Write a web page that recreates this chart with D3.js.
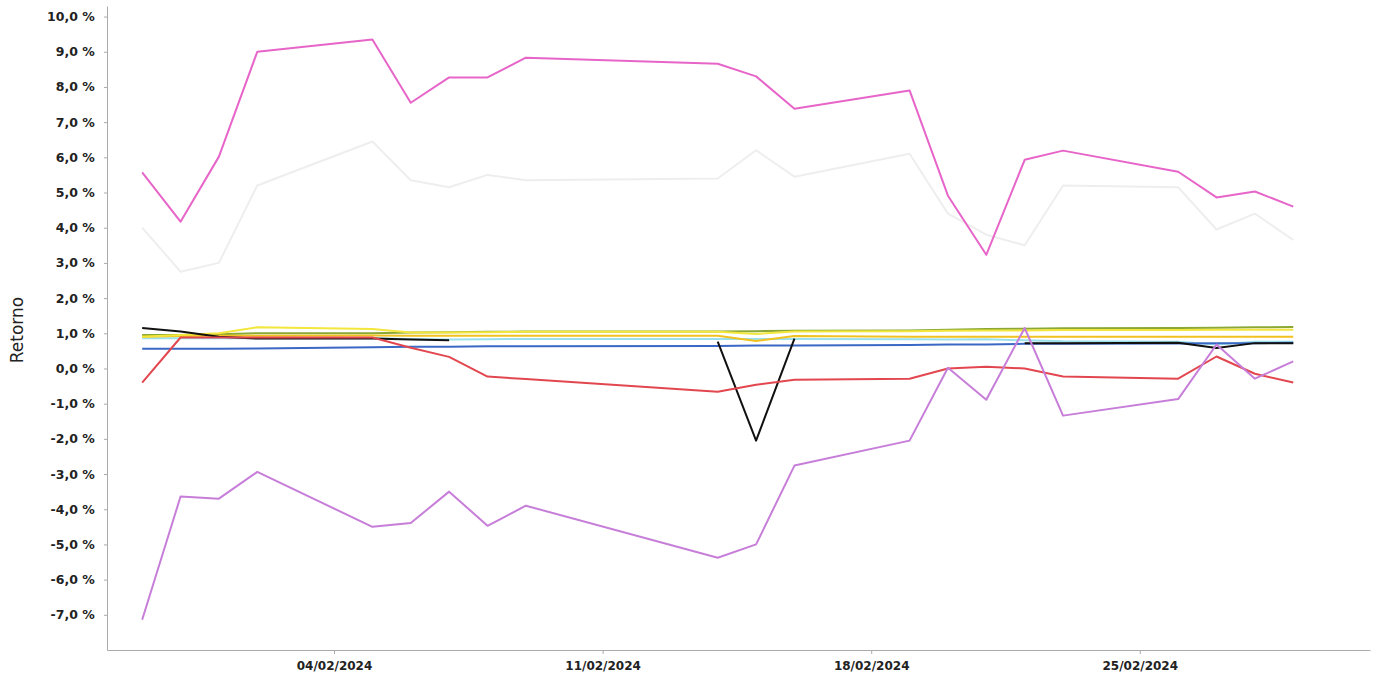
<!DOCTYPE html>
<html>
<head>
<meta charset="utf-8">
<script src="https://cdn.jsdelivr.net/npm/d3@7"></script>
<style>
  body { margin: 0; background: #fff; }
  svg text { font-family: "DejaVu Sans", sans-serif; }
  .axis path, .axis line { stroke: #aaa; }
  .axis text { fill: #222; font-weight: bold; }
</style>
</head>
<body>
<div id="chart"></div>
<script>
// trading days (Carnival 12-13/02 missing)
const dates = ["30/01/2024", "31/01/2024", "01/02/2024", "02/02/2024", "05/02/2024", "06/02/2024",
  "07/02/2024", "08/02/2024", "09/02/2024", "14/02/2024", "15/02/2024", "16/02/2024", "19/02/2024",
  "20/02/2024", "21/02/2024", "22/02/2024", "23/02/2024", "26/02/2024", "27/02/2024", "28/02/2024", "29/02/2024"];

const xTicks = ["04/02/2024", "11/02/2024", "18/02/2024", "25/02/2024"];
const yTicks = [10, 9, 8, 7, 6, 5, 4, 3, 2, 1, 0, -1, -2, -3, -4, -5, -6, -7];

const lightGray = [4.0, 2.75, 3.0, 5.2, 6.45, 5.35, 5.15, 5.5, 5.35, 5.4, 6.2, 5.45, 6.1, 4.4, 3.8, 3.5, 5.2, 5.15, 3.95, 4.4, 3.65];
const blue = [0.56, 0.56, 0.56, 0.57, 0.6, 0.62, 0.62, 0.63, 0.63, 0.64, 0.65, 0.65, 0.67, 0.68, 0.68, 0.7, 0.7, 0.71, 0.72, 0.72, 0.73];
const cyan = [0.86, 0.86, 0.86, 0.86, 0.86, 0.84, 0.82, 0.83, 0.84, 0.84, 0.84, 0.84, 0.83, 0.82, 0.83, 0.8, 0.77, 0.76, 0.68, 0.76, 0.76];
const green = [0.95, 0.95, 0.97, 1.0, 1.0, 1.02, 1.03, 1.04, 1.05, 1.05, 1.06, 1.07, 1.08, 1.1, 1.12, 1.13, 1.14, 1.15, 1.16, 1.17, 1.18];
const gold = [0.9, 0.92, 0.93, 0.93, 0.94, 0.93, 0.93, 0.93, 0.93, 0.93, 0.78, 0.92, 0.9, 0.9, 0.9, 0.9, 0.9, 0.9, 0.9, 0.9, 0.9];
const yellow = [0.9, 0.95, 1.0, 1.17, 1.12, 1.02, 1.02, 1.03, 1.04, 1.04, 0.98, 1.05, 1.06, 1.07, 1.08, 1.08, 1.09, 1.09, 1.1, 1.1, 1.1];
const black = [1.15, 1.05, 0.9, 0.85, 0.85, 0.82, 0.8, null, null, 0.76, -2.05, 0.85, null, null, null, 0.72, 0.72, 0.73, 0.58, 0.72, 0.72];
const red = [-0.4, 0.88, 0.88, 0.88, 0.88, 0.59, 0.33, -0.23, -0.3, -0.66, -0.46, -0.32, -0.29, 0.0, 0.05, 0.0, -0.23, -0.29, 0.34, -0.15, -0.4];
const violet = [-7.14, -3.64, -3.7, -2.94, -4.5, -4.39, -3.5, -4.47, -3.9, -5.38, -5.0, -2.76, -2.05, 0.02, -0.89, 1.15, -1.34, -0.87, 0.68, -0.29, 0.2];
const pink = [5.57, 4.17, 6.02, 9.0, 9.35, 7.55, 8.27, 8.27, 8.83, 8.66, 8.3, 7.38, 7.9, 4.91, 3.23, 5.93, 6.19, 5.59, 4.86, 5.03, 4.6];

const parseDate = d3.timeParse("%d/%m/%Y");

const series = [
  { values: lightGray, color: "#eeeeee" },
  { values: cyan, color: "#9be0ea" },
  { values: blue, color: "#3b68c4" },
  { values: green, color: "#8aa833" },
  { values: gold, color: "#f1c21f" },
  { values: yellow, color: "#f3e63c" },
  { values: black, color: "#111111" },
  { values: red, color: "#e2474f" },
  { values: violet, color: "#c77ed9" },
  { values: pink, color: "#e765c9" }
];

const width = 1379;
const height = 681;

const svg = d3.select("#chart")
  .append("svg")
  .attr("width", width)
  .attr("height", height);

// scales
const x = d3.scaleTime()
  .domain([new Date(2024, 0, 29, 2), new Date(2024, 2, 2)])
  .range([107, 1370]);

const y = d3.scaleLinear()
  .domain([-8, 10.3])
  .range([650, 6]);

// axes
const xAxis = d3.axisBottom(x)
  .tickValues(xTicks.map(parseDate))
  .tickFormat(d3.timeFormat("%d/%m/%Y"))
  .tickSize(4)
  .tickSizeOuter(0);

const yAxis = d3.axisLeft(y)
  .tickValues(yTicks)
  .tickFormat(d => d3.format(".1f")(d).replace("−", "-").replace(".", ",") + " %")
  .tickSize(3)
  .tickSizeOuter(0);

svg.append("g")
  .attr("class", "x axis")
  .attr("transform", "translate(0,650)")
  .call(xAxis)
  .call(g => g.selectAll("text").attr("font-size", 12).attr("dy", "1.1em"));

svg.append("g")
  .attr("class", "y axis")
  .attr("transform", "translate(107,0)")
  .call(yAxis)
  .call(g => g.selectAll("text").attr("font-size", 12.5).attr("dx", "-0.5em"));

// lines
const line = d3.line()
  .defined(d => d !== null)
  .x((d, i) => x(parseDate(dates[i])))
  .y(d => y(d));

svg.selectAll(".series")
  .data(series)
  .enter()
  .append("path")
  .attr("class", "series")
  .attr("fill", "none")
  .attr("stroke", d => d.color)
  .attr("stroke-width", 2)
  .attr("stroke-linejoin", "round")
  .attr("d", d => line(d.values));

// axis label
svg.append("text")
  .attr("text-anchor", "middle")
  .attr("transform", "translate(23,330)rotate(-90)")
  .attr("font-size", 17)
  .attr("fill", "#222")
  .text("Retorno");
</script>
</body>
</html>
